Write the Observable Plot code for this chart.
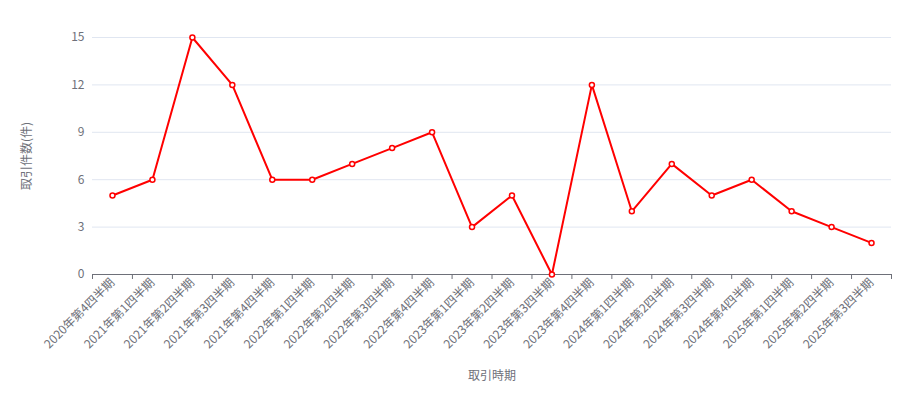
<!DOCTYPE html>
<html>
<head>
<meta charset="utf-8">
<script src="https://cdn.jsdelivr.net/npm/d3@7"></script>
<script src="https://cdn.jsdelivr.net/npm/@observablehq/plot@0.6"></script>
<style>
  body { margin: 0; background: #fff; }
</style>
</head>
<body>
<div id="chart"></div>
<script>
// Quarterly transaction counts
const periods = [
  "2020年第4四半期", "2021年第1四半期", "2021年第2四半期", "2021年第3四半期", "2021年第4四半期",
  "2022年第1四半期", "2022年第2四半期", "2022年第3四半期", "2022年第4四半期",
  "2023年第1四半期", "2023年第2四半期", "2023年第3四半期", "2023年第4四半期",
  "2024年第1四半期", "2024年第2四半期", "2024年第3四半期", "2024年第4四半期",
  "2025年第1四半期", "2025年第2四半期", "2025年第3四半期"
];
const counts = [5, 6, 15, 12, 6, 6, 7, 8, 9, 3, 5, 0, 12, 4, 7, 5, 6, 4, 3, 2];
const yTicks = [0, 3, 6, 9, 12, 15];

const yTitle = "取引件数(件)";
const xTitle = "取引時期";

// Each period occupies one unit band; points sit at band centres
const data = periods.map((period, i) => ({ pos: i + 0.5, period, count: counts[i] }));
const bandEdges = d3.range(periods.length + 1);

const chart = Plot.plot({
  width: 912,
  height: 393,
  marginLeft: 92,
  marginRight: 21,
  marginTop: 37,
  marginBottom: 119,
  style: {
    fontFamily: "'Noto Sans CJK JP', sans-serif",
    fontSize: "12px",
    color: "#6e7079",
    background: "#fff"
  },
  x: { type: "linear", domain: [0, periods.length] },
  y: { domain: [0, 15] },
  marks: [
    Plot.gridY(yTicks, { stroke: "#e0e6f1", strokeOpacity: 1 }),
    Plot.axisY(yTicks, { tickSize: 0, tickPadding: 8, label: null }),
    Plot.ruleY([0], { stroke: "#6e7079" }),
    Plot.axisX(bandEdges, { tickSize: 5, tickFormat: () => "", stroke: "#6e7079", label: null }),
    Plot.axisX(data.map(d => d.pos), {
      tickSize: 0,
      tickPadding: 6,
      tickRotate: -45,
      tickFormat: (d) => periods[Math.floor(d)],
      label: null
    }),
    Plot.line(data, { x: "pos", y: "count", stroke: "#ff0000", strokeWidth: 2 }),
    Plot.dot(data, { x: "pos", y: "count", r: 2.5, fill: "#fff", stroke: "#ff0000", strokeWidth: 1.5 }),
    Plot.text([yTitle], { frameAnchor: "left", textAnchor: "middle", rotate: -90, dx: -65, fill: "#6e7079", fontSize: 12 }),
    Plot.text([xTitle], { frameAnchor: "bottom", dy: 105, fill: "#6e7079", fontSize: 12 })
  ]
});

document.getElementById("chart").appendChild(chart);
</script>
</body>
</html>
